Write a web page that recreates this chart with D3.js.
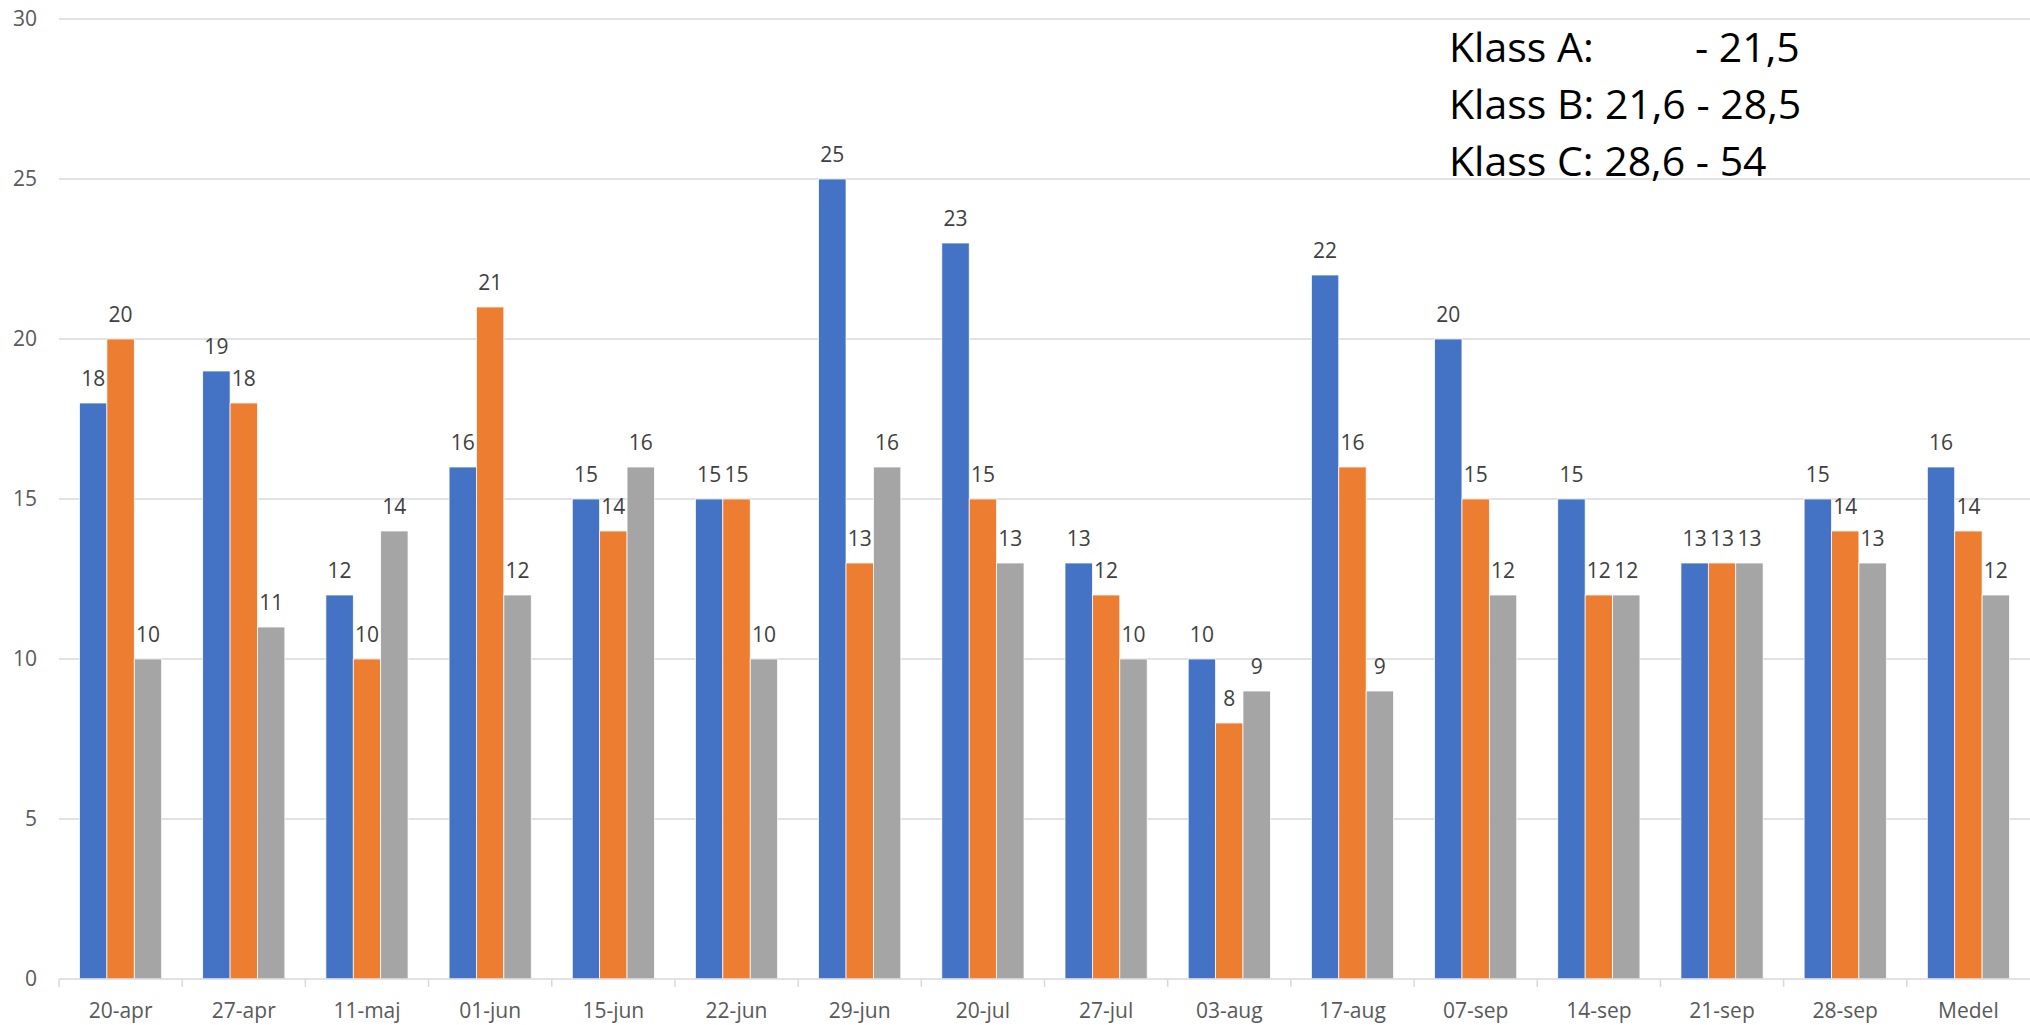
<!DOCTYPE html>
<html>
<head>
<meta charset="utf-8">
<script src="https://cdn.jsdelivr.net/npm/d3@7"></script>
<style>
  body { margin: 0; background: #fff; }
  svg { display: block; font-family: "Open Sans", sans-serif; }
</style>
</head>
<body>
<svg width="2030" height="1025"></svg>
<script>
const dates = ["20-apr", "27-apr", "11-maj", "01-jun", "15-jun", "22-jun", "29-jun", "20-jul",
  "27-jul", "03-aug", "17-aug", "07-sep", "14-sep", "21-sep", "28-sep", "Medel"];
const klassA = [18, 19, 12, 16, 15, 15, 25, 23, 13, 10, 22, 20, 15, 13, 15, 16];
const klassB = [20, 18, 10, 21, 14, 15, 13, 15, 12, 8, 16, 15, 12, 13, 14, 14];
const klassC = [10, 11, 14, 12, 16, 10, 16, 13, 10, 9, 9, 12, 12, 13, 13, 12];
const yTicks = [0, 5, 10, 15, 20, 25, 30];
const legendNames = ["Klass A:", "Klass B:", "Klass C:"];
const legendRanges = ["- 21,5", "21,6 - 28,5", "28,6 - 54"];

const colors = ["#4472C4", "#ED7D31", "#A5A5A5"];
const series = [klassA, klassB, klassC];

const svg = d3.select("svg");
const plotLeft = 59, plotRight = 2030, plotTop = 19, plotBottom = 979;

const x = d3.scaleBand()
  .domain(dates)
  .range([plotLeft, plotRight])
  .paddingInner(0.333)
  .paddingOuter(0.1665);

const xs = d3.scaleBand()
  .domain([0, 1, 2])
  .range([0, x.bandwidth()]);

const y = d3.scaleLinear()
  .domain([0, 30])
  .range([plotBottom, plotTop]);

// gridlines
svg.append("g")
  .selectAll("line")
  .data(yTicks.filter(d => d > 0))
  .enter().append("line")
  .attr("x1", plotLeft)
  .attr("x2", plotRight)
  .attr("y1", d => y(d))
  .attr("y2", d => y(d))
  .attr("stroke", "#d9d9d9")
  .attr("stroke-width", 1.5);

// y labels
svg.append("g")
  .selectAll("text")
  .data(yTicks)
  .enter().append("text")
  .attr("x", 37)
  .attr("y", d => y(d))
  .attr("dy", "0.35em")
  .attr("text-anchor", "end")
  .attr("fill", "#595959")
  .style("font-size", "21px")
  .text(d => d);

// bars
const group = svg.append("g")
  .selectAll("g")
  .data(dates)
  .enter().append("g")
  .attr("transform", d => `translate(${x(d)},0)`);

const cells = group.selectAll("g")
  .data((d, i) => series.map((s, k) => ({ k, v: s[i] })))
  .enter().append("g");

cells.append("rect")
  .attr("x", d => xs(d.k))
  .attr("y", d => y(d.v))
  .attr("width", xs.bandwidth())
  .attr("height", d => plotBottom - y(d.v))
  .attr("fill", d => colors[d.k])
  .attr("stroke", "#fff")
  .attr("stroke-width", 0.75);

cells.append("text")
  .attr("x", d => xs(d.k) + xs.bandwidth() / 2)
  .attr("y", d => y(d.v) - 17)
  .attr("text-anchor", "middle")
  .attr("fill", "#404040")
  .style("font-size", "21px")
  .text(d => d.v);

// x axis
const xAxis = svg.append("g");
xAxis.append("line")
  .attr("x1", plotLeft)
  .attr("x2", plotRight)
  .attr("y1", plotBottom)
  .attr("y2", plotBottom)
  .attr("stroke", "#d9d9d9")
  .attr("stroke-width", 1.5);

xAxis.selectAll(".tick")
  .data(dates)
  .enter().append("line")
  .attr("class", "tick")
  .attr("x1", (d, i) => plotLeft + i * x.step())
  .attr("x2", (d, i) => plotLeft + i * x.step())
  .attr("y1", plotBottom)
  .attr("y2", plotBottom + 8)
  .attr("stroke", "#d9d9d9")
  .attr("stroke-width", 1.5);

xAxis.selectAll("text")
  .data(dates)
  .enter().append("text")
  .attr("x", d => x(d) + x.bandwidth() / 2)
  .attr("y", 1018)
  .attr("text-anchor", "middle")
  .attr("fill", "#595959")
  .style("font-size", "21px")
  .text(d => d);

// class legend text box
const legend = svg.append("g").style("font-size", "41px").attr("fill", "#000");
legendNames.forEach((name, i) => {
  const t = legend.append("text")
    .attr("x", 1449)
    .attr("y", 62 + i * 57);
  t.append("tspan").text(name + " ");
  const r = t.append("tspan").text(legendRanges[i]);
  if (i === 0) r.attr("x", 1695);
});
</script>
</body>
</html>
